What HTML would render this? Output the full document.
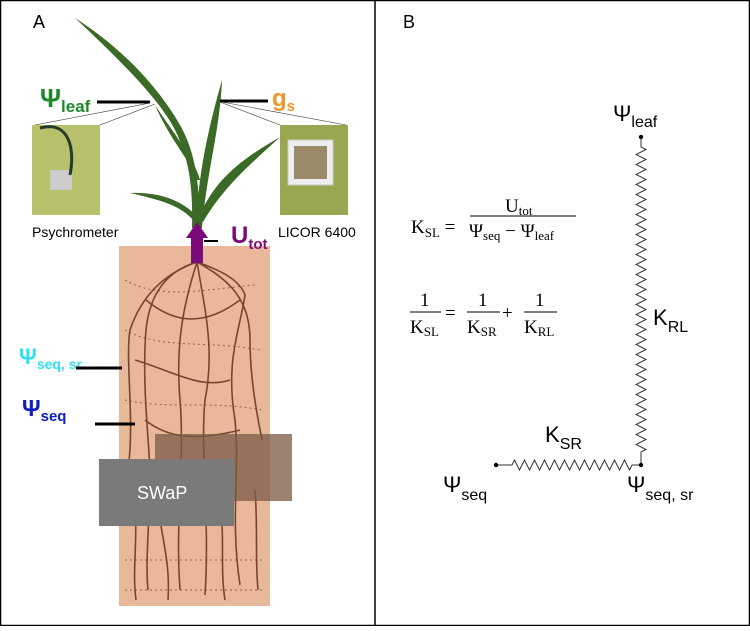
<!DOCTYPE html>
<html><head><style>
body{margin:0;background:#fff;}
</style></head><body>
<svg width="750" height="626" viewBox="0 0 750 626" xmlns="http://www.w3.org/2000/svg" font-family="Liberation Sans, sans-serif">
<rect x="0.5" y="0.5" width="749" height="625" fill="#fff" stroke="#000" stroke-width="1.5"/>
<line x1="375" y1="0" x2="375" y2="626" stroke="#000" stroke-width="1.5"/>
<text x="33" y="28" font-size="18">A</text>
<text x="403" y="28" font-size="18">B</text>

<rect x="119" y="246" width="151" height="360" fill="#e9b89b"/>
<g stroke="#6b3a1e" stroke-width="1.6" fill="none" opacity="0.9">
<path d="M197,262 C170,270 150,290 146,330 C142,380 148,430 150,470 C150,520 145,560 148,590"/>
<path d="M197,262 C220,270 240,280 245,295 C240,330 225,360 235,420 C240,470 230,520 240,585"/>
<path d="M197,262 C185,300 175,340 180,400 C185,460 175,520 180,590"/>
<path d="M197,262 C205,310 215,350 205,400 C200,450 210,520 205,595"/>
<path d="M197,262 C160,275 140,300 130,330 C125,360 135,420 128,470"/>
<path d="M197,262 C230,280 250,300 250,340 C250,380 258,420 262,440"/>
<path d="M146,300 C170,320 200,330 240,300"/>
<path d="M135,360 C170,370 200,390 230,380"/>
<path d="M145,420 C170,440 200,440 240,430"/>
<path d="M160,520 C165,550 170,570 168,600"/>
<path d="M220,500 C225,540 220,570 225,600"/>
<path d="M135,500 C138,540 132,570 136,600"/>
<path d="M255,490 C258,530 255,560 258,590"/>
</g>
<g stroke="#6b3a1e" stroke-width="1" fill="none" opacity="0.7" stroke-dasharray="2 3">
<path d="M125,280 C160,300 200,290 255,285"/>
<path d="M125,330 C160,350 210,340 260,350"/>
<path d="M125,400 C170,410 210,400 262,410"/>
<path d="M125,560 L265,560"/>
<path d="M125,590 L265,590"/>
</g>
<rect x="155" y="434" width="137" height="67" fill="#7a5a45" opacity="0.75"/>
<rect x="99" y="459" width="135" height="67" fill="#7a7a7a"/>
<text x="137" y="499" font-size="18" fill="#fff">SWaP</text>

<g fill="#3a6a25">
<path d="M192,228 C193,190 190,160 175,130 C160,100 120,60 75,18 C125,50 160,90 180,125 C197,155 200,190 199,228 Z"/>
<path d="M196,228 C198,180 205,140 222,80 C220,130 207,170 202,228 Z"/>
<path d="M200,215 C215,180 240,160 280,137 C250,165 225,185 203,222 Z"/>
<path d="M193,220 C180,205 160,200 130,193 C160,192 180,200 196,215 Z"/>
<path d="M197,180 C190,160 170,140 155,105 C175,135 195,160 200,180 Z"/>
</g>
<line x1="97" y1="102" x2="150" y2="102" stroke="#000" stroke-width="3"/>
<line x1="220" y1="101" x2="268" y2="101" stroke="#000" stroke-width="3"/>
<g stroke="#333" stroke-width="0.6">
<line x1="35" y1="125" x2="150" y2="103"/><line x1="100" y1="125" x2="155" y2="104"/>
<line x1="280" y1="125" x2="220" y2="102"/><line x1="346" y1="125" x2="222" y2="102"/>
</g>
<text x="40" y="107" font-size="26" font-weight="bold" fill="#1f8a2a">Ψ<tspan font-size="17" dy="5">leaf</tspan></text>
<text x="272" y="106" font-size="24" font-weight="bold" fill="#f0962a">g<tspan font-size="15" dy="5">s</tspan></text>
<rect x="32" y="125" width="68" height="90" fill="#b7c06a"/>
<rect x="50" y="170" width="22" height="20" fill="#ccc"/>
<path d="M40,128 C70,120 75,150 70,175" stroke="#2a3a2a" stroke-width="3" fill="none"/>
<rect x="280" y="125" width="68" height="90" fill="#9aa650"/>
<rect x="288" y="140" width="45" height="45" fill="#eee" stroke="#ccc"/>
<rect x="294" y="146" width="33" height="33" fill="#9b8a6a"/>
<text x="32" y="237" font-size="14">Psychrometer</text>
<text x="278" y="237" font-size="14">LICOR 6400</text>
<path d="M186,238 L197,222 L208,238 L203,238 L203,263 L191,263 L191,238 Z" fill="#7a0a7a"/>
<line x1="204" y1="241" x2="218" y2="241" stroke="#000" stroke-width="2"/>
<text x="231" y="243" font-size="24" font-weight="bold" fill="#7a0a7a">U<tspan font-size="15" dy="6">tot</tspan></text>
<text x="19" y="364" font-size="22" font-weight="bold" fill="#2fe0f0">Ψ<tspan font-size="14" dy="5">seq, sr</tspan></text>
<line x1="76" y1="368" x2="122" y2="368" stroke="#000" stroke-width="3"/>
<text x="22" y="416" font-size="23" font-weight="bold" fill="#1020c0">Ψ<tspan font-size="15" dy="5">seq</tspan></text>
<line x1="95" y1="424" x2="135" y2="424" stroke="#000" stroke-width="3"/>

<g font-family="Liberation Serif, serif" font-size="19">
<text x="411" y="233">K<tspan font-size="13" dy="4">SL</tspan><tspan dy="-4"> =</tspan></text>
<text x="505" y="212">U<tspan font-size="13" dy="3">tot</tspan></text>
<line x1="470" y1="216" x2="576" y2="216" stroke="#000"/>
<text x="469" y="237">Ψ<tspan font-size="13" dy="3">seq</tspan><tspan dy="-3"> − Ψ</tspan><tspan font-size="13" dy="3">leaf</tspan></text>
<text x="420" y="306">1</text><line x1="410" y1="312" x2="441" y2="312" stroke="#000"/>
<text x="410" y="333">K<tspan font-size="13" dy="3">SL</tspan></text>
<text x="445" y="319">=</text>
<text x="478" y="306">1</text><line x1="467" y1="312" x2="500" y2="312" stroke="#000"/>
<text x="467" y="333">K<tspan font-size="13" dy="3">SR</tspan></text>
<text x="502" y="319">+</text>
<text x="535" y="306">1</text><line x1="524" y1="312" x2="557" y2="312" stroke="#000"/>
<text x="524" y="333">K<tspan font-size="13" dy="3">RL</tspan></text>
</g>
<path d="M641,137 v10 l5,2.5 l-10,5 l10,5 l-10,5 l10,5 l-10,5 l10,5 l-10,5 l10,5 l-10,5 l10,5 l-10,5 l10,5 l-10,5 l10,5 l-10,5 l10,5 l-10,5 l10,5 l-10,5 l10,5 l-10,5 l10,5 l-10,5 l10,5 l-10,5 l10,5 l-10,5 l10,5 l-10,5 l10,5 l-10,5 l10,5 l-10,5 l10,5 l-10,5 l10,5 l-10,5 l10,5 l-10,5 l10,5 l-10,5 l10,5 l-10,5 l10,5 l-10,5 l10,5 l-10,5 l10,5 l-10,5 l10,5 l-10,5 l10,5 l-10,5 l10,5 l-10,5 l10,5 l-10,5 l10,5 l-10,5 l10,5 l-5,2.5 V465" fill="none" stroke="#333" stroke-width="1"/>
<path d="M496,465 h16 l2.5,-5 l5,10 l5,-10 l5,10 l5,-10 l5,10 l5,-10 l5,10 l5,-10 l5,10 l5,-10 l5,10 l5,-10 l5,10 l5,-10 l5,10 l5,-10 l5,10 l5,-10 l5,10 l5,-10 l5,10 l5,-10 l5,10 l2.5,-5 H641" fill="none" stroke="#333" stroke-width="1"/>
<circle cx="641" cy="137" r="2.2"/><circle cx="641" cy="465" r="2.2"/><circle cx="496" cy="465" r="2.2"/>
<g font-size="22">
<text x="613" y="121">Ψ<tspan font-size="16" dy="6">leaf</tspan></text>
<text x="653" y="325">K<tspan font-size="16" dy="7">RL</tspan></text>
<text x="545" y="442">K<tspan font-size="16" dy="7">SR</tspan></text>
<text x="443" y="492">Ψ<tspan font-size="16" dy="8">seq</tspan></text>
<text x="627" y="492">Ψ<tspan font-size="16" dy="8">seq, sr</tspan></text>
</g>
</svg>
</body></html>
